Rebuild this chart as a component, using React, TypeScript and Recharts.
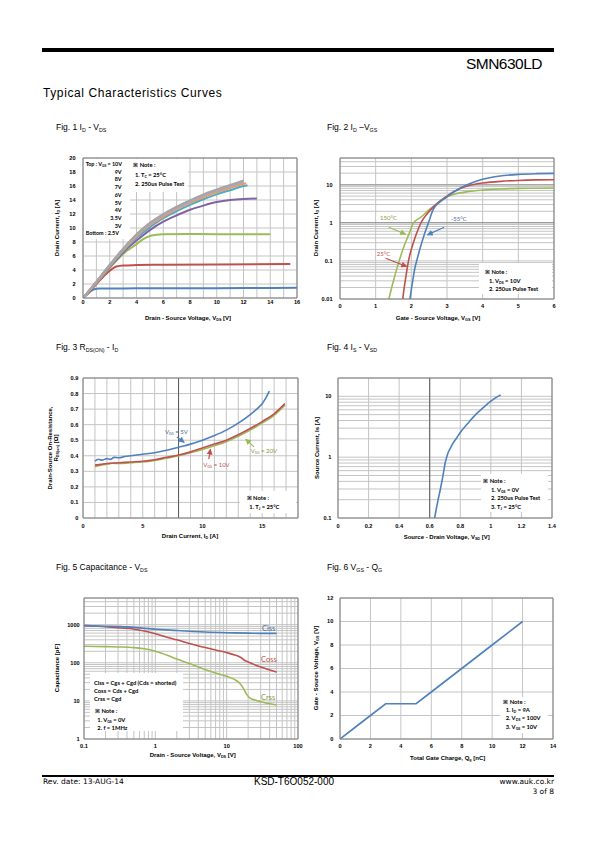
import React from "react";
import { LineChart, Line, XAxis, YAxis, CartesianGrid, ReferenceLine } from "recharts";

const FONT = "'Liberation Sans', Arial, sans-serif";
const NOTE = "Lato, 'Liberation Sans', sans-serif";
const GRID = "#c4c4c4";
const AXIS = "#7f7f7f";
const BLUE = "#4F81BD";
const RED = "#C0504D";
const GREEN = "#9BBB59";

// Fig 1: ID - VDS, one curve per VGS
const f1VgsLabels = ["10V", "9V", "8V", "7V", "6V", "5V", "4V", "3.5V", "3V", "2.5V"];
const f1Vgs25 = [[0, 0], [0.3, 0.5], [0.6, 1.0], [0.9, 1.3], [1.2, 1.35], [2, 1.36], [4, 1.38], [8, 1.4], [12, 1.42], [16, 1.45]];
const f1Vgs3 = [[0, 0], [0.5, 0.9], [1, 2.0], [1.5, 3.0], [2, 3.9], [2.5, 4.5], [3, 4.65], [4, 4.7], [6, 4.75], [10, 4.8], [15.5, 4.85]];
const f1Vgs35 = [[0, 0], [1, 2.1], [2, 4.3], [3, 6.3], [4, 7.7], [4.5, 8.4], [5, 8.85], [5.5, 9.05], [6, 9.1], [8, 9.15], [10, 9.12], [14, 9.1]];
const f1Vgs4 = [[0, 0], [1, 2.2], [2, 4.4], [3, 6.5], [4, 8.2], [5, 9.7], [6, 10.9], [7, 11.8], [8, 12.6], [9, 13.2], [10, 13.7], [11, 14.0], [12, 14.15], [13, 14.2]];
const f1Vgs5 = [[0, 0], [1, 2.2], [2, 4.5], [3, 6.7], [4, 8.6], [5, 10.1], [6, 11.4], [7, 12.4], [8, 13.3], [9, 14.1], [10, 14.8], [11, 15.4], [12, 16.0], [12.3, 16.1]];
const f1Vgs6 = [[0, 0], [1, 2.25], [2, 4.6], [3, 6.8], [4, 8.8], [5, 10.4], [6, 11.6], [7, 12.7], [8, 13.6], [9, 14.4], [10, 15.1], [11, 15.7], [12, 16.3], [12.2, 16.4]];
const f1Vgs7 = [[0, 0], [1, 2.3], [2, 4.65], [3, 6.9], [4, 8.9], [5, 10.5], [6, 11.75], [7, 12.8], [8, 13.7], [9, 14.55], [10, 15.25], [11, 15.9], [12, 16.5]];
const f1Vgs8 = [[0, 0], [1, 2.3], [2, 4.7], [3, 6.95], [4, 9.0], [5, 10.6], [6, 11.85], [7, 12.9], [8, 13.8], [9, 14.65], [10, 15.35], [11, 16.0], [12, 16.6]];
const f1Vgs9 = [[0, 0], [1, 2.35], [2, 4.72], [3, 7.0], [4, 9.05], [5, 10.7], [6, 11.9], [7, 12.95], [8, 13.9], [9, 14.7], [10, 15.45], [11, 16.1], [12, 16.7]];
const f1Vgs10 = [[0, 0], [1, 2.35], [2, 4.75], [3, 7.05], [4, 9.1], [5, 10.75], [6, 12.0], [7, 13.05], [8, 13.95], [9, 14.8], [10, 15.5], [11, 16.15], [12, 16.8]];
const f1XTicks = [0, 1, 2, 3, 4, 5, 6, 7, 8, 9, 10, 11, 12, 13, 14, 15, 16];
const f1YTicks = [0, 2, 4, 6, 8, 10, 12, 14, 16, 18, 20];

// Fig 2: ID - VGS at three temperatures
const f2Tm55 = [[1.96, 0.01], [2.0, 0.018], [2.05, 0.035], [2.1, 0.065], [2.15, 0.1], [2.25, 0.22], [2.35, 0.45], [2.48, 1.0], [2.62, 2.3], [2.8, 3.5], [3.0, 4.8], [3.2, 6.5], [3.4, 8.4], [3.6, 10.3], [3.8, 12.1], [4.0, 13.8], [4.3, 15.8], [4.6, 17.3], [5, 18.6], [5.5, 19.4], [6, 19.7]];
const f2T25 = [[1.76, 0.01], [1.8, 0.02], [1.85, 0.04], [1.92, 0.1], [2.0, 0.2], [2.1, 0.4], [2.2, 0.7], [2.27, 1.0], [2.38, 1.45], [2.6, 2.5], [2.8, 3.7], [3.0, 5.0], [3.2, 6.6], [3.4, 8.1], [3.6, 9.4], [3.8, 10.3], [4.0, 11.0], [4.5, 12.2], [5, 12.9], [5.5, 13.3], [6, 13.5]];
const f2T150 = [[1.37, 0.01], [1.45, 0.02], [1.55, 0.045], [1.66, 0.1], [1.8, 0.25], [1.95, 0.55], [2.06, 1.0], [2.27, 1.4], [2.5, 2.2], [2.7, 3.1], [2.85, 3.9], [3.0, 4.8], [3.3, 5.9], [3.6, 6.6], [4, 7.2], [4.5, 7.7], [5, 8.0], [6, 8.2]];
const f2XTicks = [0, 1, 2, 3, 4, 5, 6];

// Fig 3: RDS(on) - ID
const f3Vgs5 = [[1, 0.365], [1.3, 0.378], [1.6, 0.372], [2, 0.382], [2.3, 0.377], [2.6, 0.39], [3, 0.387], [3.5, 0.395], [4, 0.4], [5, 0.41], [6, 0.42], [7, 0.435], [8, 0.455], [9, 0.475], [10, 0.5], [11, 0.53], [12, 0.565], [13, 0.61], [14, 0.665], [14.5, 0.697], [15, 0.735], [15.3, 0.77], [15.6, 0.815]];
const f3Vgs10 = [[1, 0.34], [1.5, 0.345], [2, 0.35], [3, 0.355], [4, 0.36], [5, 0.365], [6, 0.375], [7, 0.39], [8, 0.405], [9, 0.425], [10, 0.45], [11, 0.475], [12, 0.5], [13, 0.535], [14, 0.575], [15, 0.62], [16, 0.67], [16.9, 0.735]];
const f3Vgs20 = [[1, 0.33], [1.5, 0.34], [2, 0.345], [2.5, 0.352], [3, 0.35], [4, 0.355], [5, 0.36], [6, 0.37], [7, 0.385], [8, 0.4], [9, 0.42], [10, 0.44], [11, 0.465], [12, 0.49], [13, 0.525], [14, 0.565], [15, 0.61], [16, 0.66], [16.9, 0.725]];
const f3XTicks = [0, 1, 2, 3, 4, 5, 6, 7, 8, 9, 10, 11, 12, 13, 14, 15, 16, 17, 18];
const f3YTicks = [0, 0.1, 0.2, 0.3, 0.4, 0.5, 0.6, 0.7, 0.8, 0.9];

// Fig 4: IS - VSD
const f4Is = [[0.632, 0.1], [0.645, 0.15], [0.655, 0.2], [0.67, 0.3], [0.69, 0.55], [0.7, 0.78], [0.71, 0.98], [0.72, 1.17], [0.735, 1.4], [0.75, 1.65], [0.775, 2.05], [0.8, 2.55], [0.85, 3.6], [0.9, 5.0], [0.95, 6.5], [1.0, 8.3], [1.03, 9.4], [1.064, 10.5]];
const f4XTicks = [0, 0.2, 0.4, 0.6, 0.8, 1, 1.2, 1.4];

// Fig 5: capacitance - VDS
const f5Ciss = [[0.1, 930], [0.2, 910], [0.3, 890], [0.5, 850], [0.7, 800], [1, 760], [2, 700], [3, 670], [5, 640], [10, 615], [20, 600], [30, 590], [50, 590]];
const f5Coss = [[0.1, 960], [0.2, 880], [0.3, 830], [0.5, 760], [0.7, 680], [1, 580], [1.5, 460], [2, 400], [3, 320], [5, 250], [7, 215], [10, 185], [13, 160], [16, 135], [18, 115], [20, 105], [25, 88], [30, 77], [40, 65], [50, 57]];
const f5Crss = [[0.1, 270], [0.2, 265], [0.3, 260], [0.5, 250], [0.7, 232], [1, 200], [1.5, 155], [2, 125], [3, 95], [5, 66], [7, 54], [10, 44], [13, 36], [15, 30], [17, 22], [19, 15], [21, 12], [25, 10.5], [30, 9.5], [40, 8.4], [50, 7.8]];

// Fig 6: gate charge
const f6Vgs = [[0, 0], [1, 1], [2, 2], [3, 3], [4, 3], [5, 3], [6, 4], [8, 6], [10, 8], [12, 10]];
const f6XTicks = [0, 2, 4, 6, 8, 10, 12, 14];
const f6YTicks = [0, 2, 4, 6, 8, 10, 12];

const pts = (a: number[][]) => a.map(([x, y]) => ({ x, y }));

const logTicks = (lo: number, hi: number) => {
  const out: number[] = [];
  for (let e = Math.floor(Math.log10(lo)); 10 ** e <= hi; e++) {
    for (let k = 1; k < 10; k++) {
      const v = +(k * 10 ** e).toPrecision(6);
      if (v >= lo && v <= hi) out.push(v);
    }
  }
  return out;
};
const isDecade = (v: number) => Math.abs(Math.log10(v) - Math.round(Math.log10(v))) < 1e-9;
const decadeLabel = (v: number) => (isDecade(v) ? String(v) : null);

const YW = 34;
const MT = 8;
const MR = 10;
const XH = 20;
type Box = { x: number; y: number; w: number; h: number };

const tickText = (anchor: "end" | "middle", show: (v: number) => string | null) => (p: any) => {
  const t = show(p.payload.value);
  if (t == null) return <g />;
  return (
    <text x={p.x} y={p.y} dy="0.35em" textAnchor={anchor} fontSize={5.6} fontWeight={700} fontFamily={FONT} fill="#000">
      {t}
    </text>
  );
};

function Panel({ box, children }: { box: Box; children: React.ReactNode }) {
  return (
    <div style={{ position: "absolute", left: box.x - YW, top: box.y - MT }}>
      <LineChart width={box.w + YW + MR} height={box.h + MT + XH} margin={{ top: MT, right: MR, left: 0, bottom: 0 }}>
        {children}
      </LineChart>
    </div>
  );
}

const xAxis = (domain: number[], ticks: number[], gap: number, show: (v: number) => string | null, log = false) => (
  <XAxis
    type="number"
    dataKey="x"
    scale={log ? "log" : "auto"}
    domain={domain}
    ticks={ticks}
    interval={0}
    allowDataOverflow
    height={XH}
    tickLine={false}
    tickSize={0}
    tickMargin={gap}
    axisLine={{ stroke: AXIS }}
    tick={tickText("middle", show)}
  />
);
const yAxis = (domain: number[], ticks: number[], gap: number, show: (v: number) => string | null, log = false) => (
  <YAxis
    type="number"
    dataKey="y"
    scale={log ? "log" : "auto"}
    domain={domain}
    ticks={ticks}
    interval={0}
    allowDataOverflow
    width={YW}
    tickLine={false}
    tickSize={0}
    tickMargin={gap}
    axisLine={{ stroke: AXIS }}
    tick={tickText("end", show)}
  />
);
const frame = (xMax: number, yMax: number) => [
  <ReferenceLine key="ft" y={yMax} stroke={AXIS} />,
  <ReferenceLine key="fr" x={xMax} stroke={AXIS} />,
];

type TP = {
  x: number;
  y: number;
  size: number;
  anchor?: "start" | "middle" | "end";
  bold?: boolean;
  color?: string;
  font?: string;
  rotate?: boolean;
  ls?: number;
  children: React.ReactNode;
};
function Txt({ x, y, size, anchor = "start", bold, color = "#000", font = FONT, rotate, ls, children }: TP) {
  const tx = anchor === "start" ? "0" : anchor === "middle" ? "-50%" : "-100%";
  return (
    <div
      style={{
        position: "absolute",
        left: x,
        top: y,
        transform: rotate ? "translate(-50%,-50%) rotate(-90deg)" : `translate(${tx},-50%)`,
        fontSize: size,
        fontWeight: bold ? 700 : 400,
        color,
        fontFamily: font,
        whiteSpace: "nowrap",
        lineHeight: 1,
        letterSpacing: ls,
      }}
    >
      {children}
    </div>
  );
}
const Sub = ({ children }: { children: React.ReactNode }) => (
  <span style={{ fontSize: "0.62em", verticalAlign: "-0.3em" }}>{children}</span>
);
const WhiteBox = ({ x, y, w, h }: Box) => (
  <div style={{ position: "absolute", left: x, top: y, width: w, height: h, background: "#fff" }} />
);
const N = ({ x, y, children }: { x: number; y: number; children: React.ReactNode }) => (
  <Txt x={x} y={y} size={5.8} bold font={NOTE}>
    {children}
  </Txt>
);
const XTitle = ({ x, y, children }: { x: number; y: number; children: React.ReactNode }) => (
  <Txt x={x} y={y} size={6} bold anchor="middle">
    {children}
  </Txt>
);
const YTitle = ({ x, y, children }: { x: number; y: number; children: React.ReactNode }) => (
  <Txt x={x} y={y} size={6} bold rotate>
    {children}
  </Txt>
);
const arrowDef = (id: string, color: string) => (
  <marker id={id} viewBox="0 0 10 10" refX="9" refY="5" markerWidth="5" markerHeight="5" orient="auto">
    <path d="M0,0 L10,5 L0,10 z" fill={color} />
  </marker>
);

const B1 = { x: 83, y: 158, w: 214, h: 140 };
const B2 = { x: 340, y: 158, w: 214, h: 141 };
const B3 = { x: 83, y: 378, w: 215, h: 140 };
const B4 = { x: 338, y: 378, w: 214, h: 140 };
const B5 = { x: 84, y: 598, w: 214, h: 141 };
const B6 = { x: 340, y: 598, w: 213, h: 141 };

const f1Series = [
  { d: f1Vgs25, c: BLUE },
  { d: f1Vgs3, c: RED },
  { d: f1Vgs35, c: GREEN },
  { d: f1Vgs4, c: "#8064A2" },
  { d: f1Vgs5, c: "#4BACC6" },
  { d: f1Vgs6, c: "#F79646" },
  { d: f1Vgs7, c: "#c9a3a2" },
  { d: f1Vgs8, c: "#a9a9b8" },
  { d: f1Vgs9, c: "#b3a2c7" },
  { d: f1Vgs10, c: "#a6a6a6" },
];

export default function App() {
  return (
    <div style={{ position: "absolute", left: 0, top: 0, width: 595, height: 842, background: "#fff", overflow: "hidden", fontFamily: FONT }}>
      {/* header */}
      <div style={{ position: "absolute", left: 42, top: 48, width: 512, height: 4, background: "#000" }} />
      <Txt x={542} y={64} size={15.5} anchor="end" ls={-0.5}>SMN630LD</Txt>
      <Txt x={43} y={93.3} size={12} ls={0.6}>Typical Characteristics Curves</Txt>

      {/* Fig 1 */}
      <Txt x={56} y={127.5} size={8.5}>Fig. 1 I<Sub>D</Sub> - V<Sub>DS</Sub></Txt>
      <Panel box={B1}>
        <CartesianGrid stroke={GRID} />
        {xAxis([0, 16], f1XTicks, 4.3, (v) => (v % 2 === 0 ? String(v) : null))}
        {yAxis([0, 20], f1YTicks, 7.5, (v) => String(v))}
        {frame(16, 20)}
        {f1Series.map((s, i) => (
          <Line key={i} data={pts(s.d)} dataKey="y" type="monotone" stroke={s.c} strokeWidth={2} dot={false} isAnimationActive={false} />
        ))}
      </Panel>
      <WhiteBox x={84} y={158.5} w={46} h={80} />
      <WhiteBox x={130} y={158.5} w={58} h={33} />
      <Txt x={85.7} y={165} size={5.4} bold font={NOTE}>Top : V<Sub>GS</Sub> = {f1VgsLabels[0]}</Txt>
      {f1VgsLabels.slice(1, 9).map((l, i) => (
        <Txt key={l} x={121.5} y={172.7 + i * 7.7} size={5.4} bold font={NOTE} anchor="end">{l}</Txt>
      ))}
      <Txt x={85.7} y={234.3} size={5.4} bold font={NOTE}>Bottom : {f1VgsLabels[9]}</Txt>
      <N x={133.3} y={165}>※ Note :</N>
      <N x={135} y={175}>1. T<Sub>C</Sub> = 25°C</N>
      <N x={135} y={184.3}>2. 250us Pulse Test</N>
      <XTitle x={188} y={319}>Drain - Source Voltage, V<Sub>DS</Sub> [V]</XTitle>
      <YTitle x={58.3} y={228}>Drain Current, I<Sub>D</Sub> [A]</YTitle>

      {/* Fig 2 */}
      <Txt x={327} y={127.5} size={8.5}>Fig. 2 I<Sub>D</Sub> –V<Sub>GS</Sub></Txt>
      <Panel box={B2}>
        <defs>
          {arrowDef("a2g", GREEN)}
          {arrowDef("a2r", RED)}
          {arrowDef("a2b", BLUE)}
        </defs>
        <CartesianGrid stroke={GRID} />
        {xAxis([0, 6], f2XTicks, 7, (v) => String(v))}
        {yAxis([0.01, 50], logTicks(0.01, 50), 7.5, decadeLabel, true)}
        <ReferenceLine y={1} stroke="#8a8a8a" />
        <ReferenceLine y={10} stroke="#a8a8a8" strokeWidth={1.5} />
        {frame(6, 50)}
        <Line data={pts(f2T150)} dataKey="y" type="monotone" stroke={GREEN} strokeWidth={1.6} dot={false} isAnimationActive={false} />
        <Line data={pts(f2T25)} dataKey="y" type="monotone" stroke={RED} strokeWidth={1.6} dot={false} isAnimationActive={false} />
        <Line data={pts(f2Tm55)} dataKey="y" type="monotone" stroke={BLUE} strokeWidth={1.6} dot={false} isAnimationActive={false} />
        <ReferenceLine segment={[{ x: 1.37, y: 0.76 }, { x: 1.84, y: 0.5 }]} stroke={GREEN} strokeWidth={1.2} markerEnd="url(#a2g)" />
        <ReferenceLine segment={[{ x: 1.28, y: 0.117 }, { x: 1.87, y: 0.071 }]} stroke={RED} strokeWidth={1.2} markerEnd="url(#a2r)" />
        <ReferenceLine segment={[{ x: 2.92, y: 0.76 }, { x: 2.45, y: 0.48 }]} stroke={BLUE} strokeWidth={1.2} markerEnd="url(#a2b)" />
      </Panel>
      <Txt x={380} y={217.7} size={6} color="#7f9a3a" font={NOTE}>150°C</Txt>
      <Txt x={376.7} y={254.3} size={6} color={RED} font={NOTE}>25°C</Txt>
      <Txt x={451} y={219} size={6} color="#4a6a95" font={NOTE}>-55°C</Txt>
      <WhiteBox x={479} y={263} w={73} h={31} />
      <N x={485} y={271.7}>※ Note :</N>
      <N x={489} y={280.7}>1. V<Sub>DS</Sub> = 10V</N>
      <N x={489} y={289.3}>2. 250us Pulse Test</N>
      <XTitle x={438} y={319}>Gate - Source Voltage, V<Sub>GS</Sub> [V]</XTitle>
      <YTitle x={316.5} y={228}>Drain Current, I<Sub>D</Sub> [A]</YTitle>

      {/* Fig 3 */}
      <Txt x={56} y={348} size={8.5}>Fig. 3 R<Sub>DS(ON)</Sub> - I<Sub>D</Sub></Txt>
      <Panel box={B3}>
        <defs>
          {arrowDef("a3g", GREEN)}
          {arrowDef("a3r", RED)}
          {arrowDef("a3b", BLUE)}
        </defs>
        <CartesianGrid stroke={GRID} />
        {xAxis([0, 18], f3XTicks, 8, (v) => (v % 5 === 0 ? String(v) : null))}
        {yAxis([0, 0.9], f3YTicks, 4.6, (v) => (v === 0 ? "0" : v.toFixed(1)))}
        <ReferenceLine x={8} stroke="#595959" />
        {frame(18, 0.9)}
        <Line data={pts(f3Vgs20)} dataKey="y" type="monotone" stroke={GREEN} strokeWidth={1.6} dot={false} isAnimationActive={false} />
        <Line data={pts(f3Vgs10)} dataKey="y" type="monotone" stroke={RED} strokeWidth={1.6} dot={false} isAnimationActive={false} />
        <Line data={pts(f3Vgs5)} dataKey="y" type="monotone" stroke={BLUE} strokeWidth={1.6} dot={false} isAnimationActive={false} />
        <ReferenceLine segment={[{ x: 7.87, y: 0.521 }, { x: 8.48, y: 0.486 }]} stroke={BLUE} strokeWidth={1.2} markerEnd="url(#a3b)" />
        <ReferenceLine segment={[{ x: 10.53, y: 0.378 }, { x: 10.67, y: 0.443 }]} stroke={RED} strokeWidth={1.2} markerEnd="url(#a3r)" />
        <ReferenceLine segment={[{ x: 14.32, y: 0.457 }, { x: 13.62, y: 0.507 }]} stroke={GREEN} strokeWidth={1.2} markerEnd="url(#a3g)" />
      </Panel>
      <Txt x={165} y={431.7} size={6} color="#4a6a95" font={NOTE}>V<Sub>GS</Sub> = 5V</Txt>
      <Txt x={203.3} y={465} size={6} color={RED} font={NOTE}>V<Sub>GS</Sub> = 10V</Txt>
      <Txt x={250.7} y={451} size={6} color="#7f9a3a" font={NOTE}>V<Sub>GS</Sub> = 20V</Txt>
      <WhiteBox x={240} y={491} w={56} h={22} />
      <N x={246.7} y={498.3}>※ Note :</N>
      <N x={249.3} y={507}>1. T<Sub>J</Sub> = 25°C</N>
      <XTitle x={190} y={537.3}>Drain Current, I<Sub>D</Sub> [A]</XTitle>
      <YTitle x={50} y={448}>Drain-Source On-Resistance,</YTitle>
      <YTitle x={57.3} y={448}>R<Sub>DS(on)</Sub> [Ω]</YTitle>

      {/* Fig 4 */}
      <Txt x={327} y={348} size={8.5}>Fig. 4 I<Sub>S</Sub> - V<Sub>SD</Sub></Txt>
      <Panel box={B4}>
        <CartesianGrid stroke={GRID} />
        {xAxis([0, 1.4], f4XTicks, 8, (v) => String(v))}
        {yAxis([0.1, 20], logTicks(0.1, 20), 6.6, decadeLabel, true)}
        <ReferenceLine x={0.6} stroke="#595959" />
        {frame(1.4, 20)}
        <Line data={pts(f4Is)} dataKey="y" type="monotone" stroke={BLUE} strokeWidth={1.6} dot={false} isAnimationActive={false} />
      </Panel>
      <WhiteBox x={481} y={474} w={67} h={38} />
      <N x={483.3} y={480.7}>※ Note :</N>
      <N x={491} y={490}>1. V<Sub>GS</Sub> = 0V</N>
      <N x={491} y={498.3}>2. 250us Pulse Test</N>
      <N x={491} y={507}>3. T<Sub>J</Sub> = 25°C</N>
      <XTitle x={446.7} y={537.7}>Source - Drain Voltage, V<Sub>SD</Sub> [V]</XTitle>
      <YTitle x={316.5} y={448}>Source Current, Is [A]</YTitle>

      {/* Fig 5 */}
      <Txt x={56} y={568} size={8.5}>Fig. 5 Capacitance - V<Sub>DS</Sub></Txt>
      <Panel box={B5}>
        <CartesianGrid stroke={GRID} />
        {xAxis([0.1, 100], logTicks(0.1, 100), 7.3, decadeLabel, true)}
        {yAxis([1, 5000], logTicks(1, 5000), 4.3, decadeLabel, true)}
        {frame(100, 5000)}
        <Line data={pts(f5Crss)} dataKey="y" type="monotone" stroke={GREEN} strokeWidth={1.6} dot={false} isAnimationActive={false} />
        <Line data={pts(f5Coss)} dataKey="y" type="monotone" stroke={RED} strokeWidth={1.6} dot={false} isAnimationActive={false} />
        <Line data={pts(f5Ciss)} dataKey="y" type="monotone" stroke={BLUE} strokeWidth={1.6} dot={false} isAnimationActive={false} />
      </Panel>
      <Txt x={262} y={629} size={7.5} color="#4a6a95" font={NOTE}>Ciss</Txt>
      <Txt x={261} y={660.3} size={7.5} color={RED} font={NOTE}>Coss</Txt>
      <Txt x={261} y={697.7} size={7.5} color="#7f9a3a" font={NOTE}>Crss</Txt>
      <WhiteBox x={90} y={673} w={93} h={58} />
      <N x={94} y={682.7}>Ciss = Cgs + Cgd (Cds = shorted)</N>
      <N x={94} y={690.7}>Coss = Cds + Cgd</N>
      <N x={94} y={698.7}>Crss = Cgd</N>
      <N x={95} y={710.7}>※ Note :</N>
      <N x={97.3} y={719.7}>1. V<Sub>GS</Sub> = 0V</N>
      <N x={97.3} y={727.7}>2. f = 1MHz</N>
      <XTitle x={192.7} y={756.3}>Drain - Source Voltage, V<Sub>DS</Sub> [V]</XTitle>
      <YTitle x={57.3} y={668}>Capacitance  [pF]</YTitle>

      {/* Fig 6 */}
      <Txt x={327} y={568} size={8.5}>Fig. 6 V<Sub>GS</Sub> - Q<Sub>G</Sub></Txt>
      <Panel box={B6}>
        <CartesianGrid stroke={GRID} />
        {xAxis([0, 14], f6XTicks, 7, (v) => String(v))}
        {yAxis([0, 12], f6YTicks, 6.7, (v) => String(v))}
        {frame(14, 12)}
        <Line data={pts(f6Vgs)} dataKey="y" type="linear" stroke={BLUE} strokeWidth={1.6} dot={false} isAnimationActive={false} />
      </Panel>
      <WhiteBox x={500} y={697} w={48} h={36} />
      <N x={503.3} y={701.7}>※ Note :</N>
      <N x={505.7} y={710}>1. I<Sub>D</Sub> = 9A</N>
      <N x={505.7} y={718.3}>2. V<Sub>DS</Sub> = 100V</N>
      <N x={505.7} y={727}>3. V<Sub>GS</Sub> = 10V</N>
      <XTitle x={447.7} y={759}>Total Gate Charge, Q<Sub>g</Sub> [nC]</XTitle>
      <YTitle x={316.5} y={668}>Gate - Source Voltage, V<Sub>GS</Sub> [V]</YTitle>

      {/* footer */}
      <div style={{ position: "absolute", left: 42, top: 775, width: 512, height: 2, background: "#000" }} />
      <Txt x={43} y={782} size={7.5} font="'DejaVu Sans', sans-serif">Rev. date: 13-AUG-14</Txt>
      <Txt x={294} y={782} size={10} anchor="middle">KSD-T6O052-000</Txt>
      <Txt x={554} y={782} size={7.5} anchor="end" font="'DejaVu Sans', sans-serif">www.auk.co.kr</Txt>
      <Txt x={554} y={792} size={7.5} anchor="end" font="'DejaVu Sans', sans-serif">3 of 8</Txt>
    </div>
  );
}
